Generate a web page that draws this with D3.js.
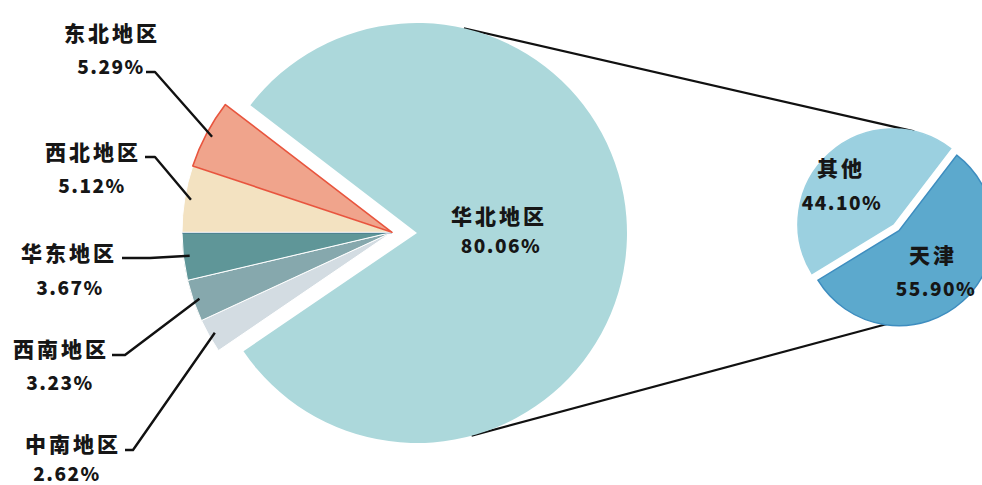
<!DOCTYPE html>
<html>
<head>
<meta charset="utf-8">
<script src="https://cdn.jsdelivr.net/npm/d3@7"></script>
<style>
  html, body { margin: 0; padding: 0; background: #fff; }
  svg text { font-family: "Noto Sans CJK SC", "Noto Sans", sans-serif; font-weight: 900; fill: #161616; }
  .name { font-size: 21px; letter-spacing: 3px; }
  .pct { font-size: 19px; letter-spacing: 1.5px; }
</style>
</head>
<body>
<div id="chart"></div>
<script>
// Regions, in clockwise order starting with the big slice
var regions = ['华北地区', '中南地区', '西南地区', '华东地区', '西北地区', '东北地区'];
var regionShare = [80.06, 2.62, 3.23, 3.67, 5.12, 5.29];
// Breakdown of 华北地区
var subParts = ['其他', '天津'];
var subShare = [44.10, 55.90];

var regionColors = ['#acd8db', '#d3dce2', '#86a8ad', '#5f9698', '#f3e2c1', '#f0a48c'];
var regionStrokes = ['none', '#ffffff', '#ffffff', '#ffffff', '#ffffff', '#e8553e'];
var subColors = ['#9bd0e0', '#5ca9cd'];
var subStrokes = ['#9bd0e0', '#3e8dbf'];

var W = 982, H = 485;
var main = {cx: 417, cy: 233, r: 210, pull: 25};
var sub = {cx: 893, cy: 224, r: 95, pull: 9, centerDeg: 318};

// label layout for the small slices (name centre, pct centre, leader start + elbow)
var labelPos = {
  '东北地区': {nx: 112, ny: 32,  px: 111, py: 65,  lx: 146, ly: 72,  ex: 155},
  '西北地区': {nx: 93,  ny: 151, px: 92,  py: 184, lx: 145, ly: 157, ex: 155},
  '华东地区': {nx: 69,  ny: 252, px: 70,  py: 286, lx: 122, ly: 258, ex: 150},
  '西南地区': {nx: 61,  ny: 348, px: 60,  py: 381, lx: 112, ly: 355, ex: 125},
  '中南地区': {nx: 73,  ny: 443, px: 67,  py: 472, lx: 125, ly: 450, ex: 133}
};

var fmt = function(v) { return d3.format('.2f')(v) + '%'; };

var svg = d3.select('#chart').append('svg')
  .attr('width', W).attr('height', H)
  .attr('xmlns', 'http://www.w3.org/2000/svg');

// --- connector lines: outer common tangents of the two circles
(function() {
  var dx = sub.cx - main.cx, dy = sub.cy - main.cy;
  var d = Math.sqrt(dx * dx + dy * dy);
  var a = Math.atan2(dy, dx);
  var phi = Math.acos((main.r - sub.r) / d);
  [a - phi, a + phi].forEach(function(t) {
    svg.append('line')
      .attr('x1', main.cx + main.r * Math.cos(t)).attr('y1', main.cy + main.r * Math.sin(t))
      .attr('x2', sub.cx + sub.r * Math.cos(t)).attr('y2', sub.cy + sub.r * Math.sin(t))
      .attr('stroke', '#111').attr('stroke-width', 2.2);
  });
})();

// --- main pie
var total = d3.sum(regionShare);
// boundary between 华东 and 西北 sits on the horizontal (left)
var before = d3.sum(regionShare.slice(0, 4)) / total * 2 * Math.PI;
var start = 1.5 * Math.PI - before;
var pieMain = d3.pie().sort(null).value(function(d) { return d; })
  .startAngle(start).endAngle(start + 2 * Math.PI);
var arcsMain = pieMain(regionShare);
var arcMain = d3.arc().innerRadius(0).outerRadius(main.r);

// small slices are pulled out together along the group's mid angle
var groupMid = (arcsMain[1].startAngle + arcsMain[5].endAngle) / 2;
var offX = main.pull * Math.sin(groupMid), offY = -main.pull * Math.cos(groupMid);

var gMain = svg.append('g').attr('transform', 'translate(' + main.cx + ',' + main.cy + ')');
arcsMain.forEach(function(a, i) {
  var g = gMain.append('g');
  if (i > 0) g.attr('transform', 'translate(' + offX + ',' + offY + ')');
  g.append('path').attr('d', arcMain(a))
    .attr('fill', regionColors[i])
    .attr('stroke', regionStrokes[i])
    .attr('stroke-width', i === 5 ? 1.6 : 1)
    .attr('stroke-linejoin', 'round');
  if (regions[i] === '华东地区') {
    // dark rim along the upper edge
    g.append('line').attr('x1', 0).attr('y1', 0)
      .attr('x2', main.r * Math.sin(a.endAngle)).attr('y2', -main.r * Math.cos(a.endAngle))
      .attr('stroke', '#1e4f7c').attr('stroke-width', 2);
  }
});

// big slice label
svg.append('text').attr('class', 'name').attr('x', 499).attr('y', 215)
  .attr('text-anchor', 'middle').attr('dominant-baseline', 'central').text(regions[0]);
svg.append('text').attr('class', 'pct').attr('x', 501).attr('y', 244)
  .attr('text-anchor', 'middle').attr('dominant-baseline', 'central').text(fmt(regionShare[0]));

// small slice labels with leaders
arcsMain.forEach(function(a, i) {
  if (i === 0) return;
  var p = labelPos[regions[i]];
  var mid = (a.startAngle + a.endAngle) / 2;
  var rr = main.r * 0.97;
  var ex = main.cx + offX + rr * Math.sin(mid), ey = main.cy + offY - rr * Math.cos(mid);
  svg.append('polyline')
    .attr('points', [[p.lx, p.ly], [p.ex, p.ly], [ex, ey]].map(function(q) { return q.join(','); }).join(' '))
    .attr('fill', 'none').attr('stroke', '#111').attr('stroke-width', 2.4)
    .attr('stroke-linejoin', 'round');
  svg.append('text').attr('class', 'name').attr('x', p.nx).attr('y', p.ny)
    .attr('text-anchor', 'middle').attr('dominant-baseline', 'central').text(regions[i]);
  svg.append('text').attr('class', 'pct').attr('x', p.px).attr('y', p.py)
    .attr('text-anchor', 'middle').attr('dominant-baseline', 'central').text(fmt(regionShare[i]));
});

// --- secondary pie (华北地区 breakdown)
var subStart = sub.centerDeg * Math.PI / 180 - (subShare[0] / d3.sum(subShare)) * Math.PI;
var pieSub = d3.pie().sort(null).value(function(d) { return d; })
  .startAngle(subStart).endAngle(subStart + 2 * Math.PI);
var arcsSub = pieSub(subShare);
var arcSub = d3.arc().innerRadius(0).outerRadius(sub.r);
var gSub = svg.append('g').attr('transform', 'translate(' + sub.cx + ',' + sub.cy + ')');
var subLabelPos = [{nx: 841, ny: 167, px: 842, py: 201}, {nx: 933, ny: 254, px: 936, py: 287}];
arcsSub.forEach(function(a, i) {
  var mid = (a.startAngle + a.endAngle) / 2;
  var k = i === 1 ? sub.pull : 0;
  gSub.append('path').attr('d', arcSub(a))
    .attr('transform', 'translate(' + (k * Math.sin(mid)) + ',' + (-k * Math.cos(mid)) + ')')
    .attr('fill', subColors[i]).attr('stroke', subStrokes[i]).attr('stroke-width', 1.5);
  var p = subLabelPos[i];
  svg.append('text').attr('class', 'name').attr('x', p.nx).attr('y', p.ny)
    .attr('text-anchor', 'middle').attr('dominant-baseline', 'central').text(subParts[i]);
  svg.append('text').attr('class', 'pct').attr('x', p.px).attr('y', p.py)
    .attr('text-anchor', 'middle').attr('dominant-baseline', 'central').text(fmt(subShare[i]));
});
</script>
</body>
</html>
